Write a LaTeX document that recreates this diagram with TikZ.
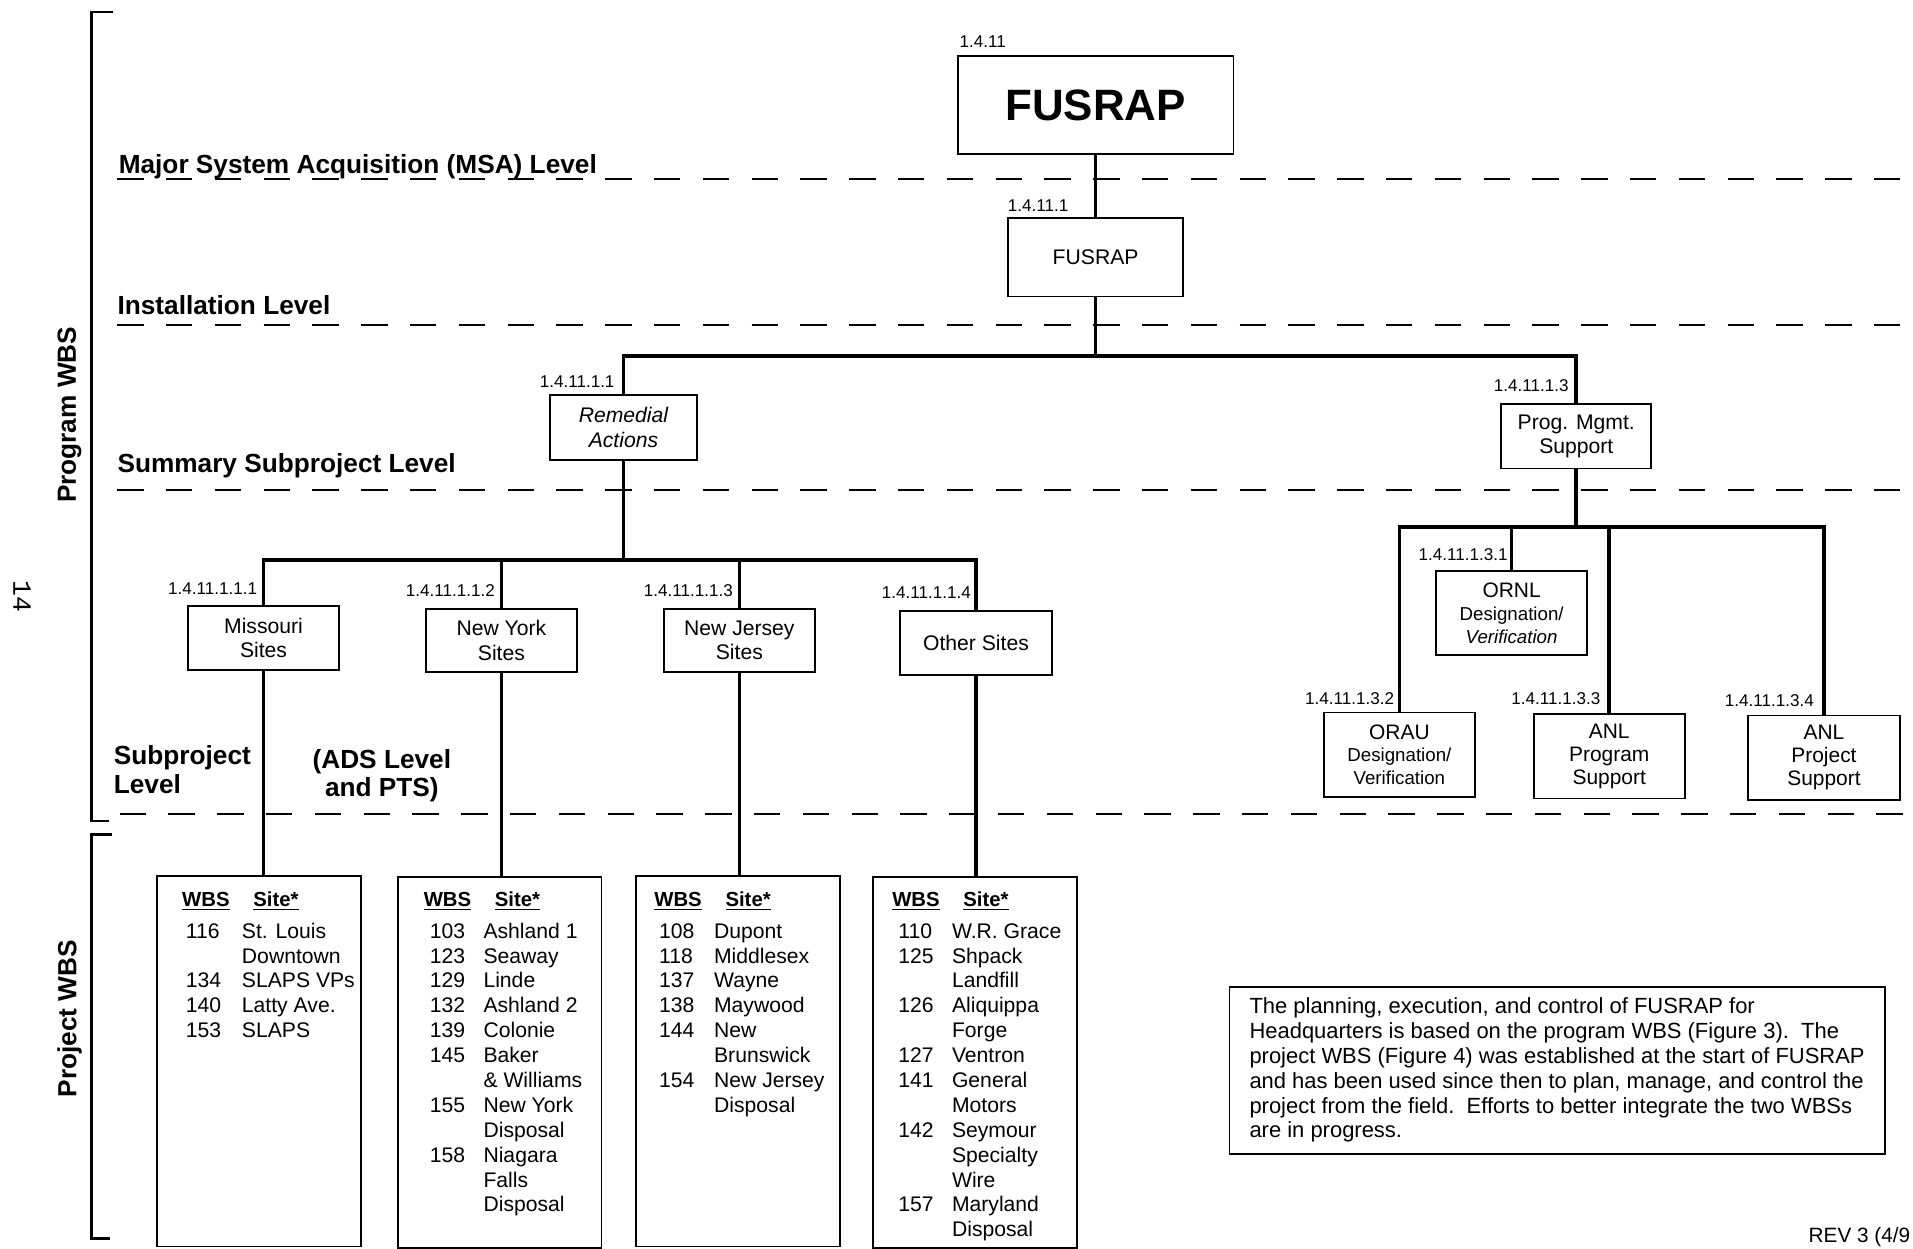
\documentclass[tikz,border=0pt]{standalone}
\usepackage{fontspec}
\setmainfont{Liberation Sans}
\newfontfamily\pagefont{Liberation Mono}
\begin{document}
\begin{tikzpicture}[x=0.6pt,y=-0.6pt,
  wbs/.style={draw,line width=0.9pt,inner sep=0pt,align=center,
    font=\fontsize{10.4}{12}\selectfont},
  sitebox/.style={wbs,minimum width=74.4pt,minimum height=31.2pt},
  labbox/.style={wbs,minimum width=74.4pt,minimum height=41.4pt,
    font=\fontsize{10.3}{11.2}\selectfont},
  listbox/.style={draw,line width=0.9pt,inner sep=0pt,anchor=north,
    minimum width=100.2pt,minimum height=182.4pt},
  code/.style={inner sep=0pt,anchor=base east,font=\fontsize{8.4}{10}\selectfont},
  level/.style={inner sep=0pt,anchor=base west,font=\fontsize{12.9}{13.8}\selectfont\bfseries},
  listhead/.style={inner sep=0pt,anchor=base west,font=\fontsize{10}{12}\selectfont\bfseries},
  listtext/.style={inner sep=0pt,anchor=base west,font=\fontsize{10.4}{12.24}\selectfont},
  tree/.style={line width=1.8pt},
  levelline/.style={line width=1pt,dash pattern=on 13pt off 11pt},
  bracket/.style={line width=1.2pt}]
  \useasboundingbox (0,0) rectangle (1568,1023);

  % level rules
  \draw[levelline] (96,147) -- (1568,147);
  \draw[levelline] (96,266) -- (1568,266);
  \draw[levelline] (96,402) -- (1568,402);
  \draw[levelline] (98,667) -- (1568,667);

  % side brackets
  \draw[bracket] (93,10) -- (75,10) -- (75,673) -- (89,673);
  \draw[bracket] (92,684) -- (75,684) -- (75,1015) -- (90,1015);
  \node[rotate=90,font=\fontsize{12.9}{14}\selectfont\bfseries] (progwbs) at (57,340) {Program WBS};
  \node[rotate=90,font=\fontsize{12.9}{14}\selectfont\bfseries] (projwbs) at (57,835) {Project WBS};
  \node[rotate=-90,font=\pagefont\fontsize{13}{14}\selectfont] (pageno) at (18,489) {14};

  % level names
  \node[level] (msa) at (97,142) {Major System Acquisition (MSA) Level};
  \node[level] (inst) at (96,258) {Installation Level};
  \node[level] (summ) at (96,387) {Summary Subproject Level};
  \node[level] (subp) at (93,627) {\begin{tabular}[t]{@{}l@{}}Subproject\\Level\end{tabular}};
  \node[level,anchor=base] (ads) at (313,630) {\begin{tabular}[t]{@{}c@{}}(ADS Level\\and PTS)\end{tabular}};

  % program WBS boxes
  \node[wbs,minimum width=135.6pt,minimum height=48pt,
    font=\fontsize{21.6}{24}\selectfont\bfseries] (top) at (898,86) {FUSRAP};
  \node[wbs,minimum width=85.8pt,minimum height=38.4pt] (fusrap) at (898,211) {FUSRAP};
  \node[wbs,minimum width=72pt,minimum height=31.8pt,
    font=\fontsize{10.4}{12}\selectfont\itshape] (remedial) at (511,350.5) {Remedial\\Actions};
  \node[wbs,minimum width=73.8pt,minimum height=31.8pt] (progmgmt) at (1292,357.5) {Prog. Mgmt.\\Support};

  \node[sitebox] (missouri) at (216,523) {Missouri\\Sites};
  \node[sitebox] (newyork) at (411,525) {New York\\Sites};
  \node[sitebox] (newjersey) at (606,525) {New Jersey\\Sites};
  \node[sitebox] (othersites) at (800,527) {Other Sites};

  \node[labbox] (ornl) at (1239,502.5) {ORNL\\{\fontsize{9.2}{11}\selectfont Designation/}\\{\fontsize{9.2}{11}\selectfont\itshape Verification}};
  \node[labbox] (orau) at (1147,618.5) {ORAU\\{\fontsize{9.2}{11}\selectfont Designation/}\\{\fontsize{9.2}{11}\selectfont Verification}};
  \node[labbox] (anlprog) at (1319,620) {ANL\\Program\\Support};
  \node[labbox] (anlproj) at (1495,621) {ANL\\Project\\Support};

  % WBS codes
  \node[code,anchor=base west] (ctop) at ([shift={(2,-6)}]top.north west) {1.4.11};
  \node[code,anchor=base west] (cfusrap) at ([shift={(0,-5)}]fusrap.north west) {1.4.11.1};
  \node[code] (cremedial) at ([shift={(-7,-6)}]remedial.north) {1.4.11.1.1};
  \node[code] (cprogmgmt) at ([shift={(-6,-9)}]progmgmt.north) {1.4.11.1.3};
  \node[code] (cmissouri) at ([shift={(-5,-9)}]missouri.north) {1.4.11.1.1.1};
  \node[code] (cnewyork) at ([shift={(-5,-9)}]newyork.north) {1.4.11.1.1.2};
  \node[code] (cnewjersey) at ([shift={(-5,-9)}]newjersey.north) {1.4.11.1.1.3};
  \node[code] (cothersites) at ([shift={(-4,-10)}]othersites.north) {1.4.11.1.1.4};
  \node[code] (cornl) at ([shift={(-3,-8)}]ornl.north) {1.4.11.1.3.1};
  \node[code] (corau) at ([shift={(-4,-6)}]orau.north) {1.4.11.1.3.2};
  \node[code] (canlprog) at ([shift={(-7,-7)}]anlprog.north) {1.4.11.1.3.3};
  \node[code] (canlproj) at ([shift={(-8,-7)}]anlproj.north) {1.4.11.1.3.4};

  % project WBS lists
  \node[listbox] (molist) at (212.5,717) {};
  \node[listbox] (nylist) at (409.5,718) {};
  \node[listbox] (njlist) at (605,717) {};
  \node[listbox] (otlist) at (799,718) {};

  \node[listhead] (mohead) at (149,743) {\makebox[35pt][l]{\underline{WBS}}\underline{Site*}};
  \node[listhead] (nyhead) at (347,743) {\makebox[35pt][l]{\underline{WBS}}\underline{Site*}};
  \node[listhead] (njhead) at (536,743) {\makebox[35pt][l]{\underline{WBS}}\underline{Site*}};
  \node[listhead] (othead) at (731,743) {\makebox[35pt][l]{\underline{WBS}}\underline{Site*}};

  \node[listtext] (motext) at (152,769) {\begin{tabular}[t]{@{}p{27.6pt}@{}l@{}}
    116&St. Louis\\ &Downtown\\ 134&SLAPS VPs\\ 140&Latty Ave.\\ 153&SLAPS
  \end{tabular}};
  \node[listtext] (nytext) at (352,769) {\begin{tabular}[t]{@{}p{26.4pt}@{}l@{}}
    103&Ashland 1\\ 123&Seaway\\ 129&Linde\\ 132&Ashland 2\\ 139&Colonie\\
    145&Baker\\ &\& Williams\\ 155&New York\\ &Disposal\\ 158&Niagara\\ &Falls\\ &Disposal
  \end{tabular}};
  \node[listtext] (njtext) at (540,769) {\begin{tabular}[t]{@{}p{27pt}@{}l@{}}
    108&Dupont\\ 118&Middlesex\\ 137&Wayne\\ 138&Maywood\\ 144&New\\ &Brunswick\\
    154&New Jersey\\ &Disposal
  \end{tabular}};
  \node[listtext] (ottext) at (736,769) {\begin{tabular}[t]{@{}p{26.4pt}@{}l@{}}
    110&W.R. Grace\\ 125&Shpack\\ &Landfill\\ 126&Aliquippa\\ &Forge\\ 127&Ventron\\
    141&General\\ &Motors\\ 142&Seymour\\ &Specialty\\ &Wire\\ 157&Maryland\\ &Disposal
  \end{tabular}};

  % tree lines
  \coordinate (bus1) at (898,292);
  \coordinate (bus2) at (511,459);
  \coordinate (bus3) at (1292,432);
  \draw[tree] (top.south) -- (fusrap.north);
  \draw[tree] (fusrap.south) -- (bus1);
  \draw[tree] (remedial.north) |- (bus1) -| (progmgmt.north);
  \draw[tree] (remedial.south) -- (bus2);
  \draw[tree] (missouri.north) |- (bus2) -| (othersites.north);
  \draw[tree] (newyork.north) -- (newyork.north |- bus2);
  \draw[tree] (newjersey.north) -- (newjersey.north |- bus2);
  \draw[tree] (progmgmt.south) -- (bus3);
  \draw[tree] (orau.north) |- (bus3) -| (anlproj.north);
  \draw[tree] (ornl.north) -- (ornl.north |- bus3);
  \draw[tree] (anlprog.north) -- (anlprog.north |- bus3);
  \foreach \s/\l in {missouri/molist,newyork/nylist,newjersey/njlist,othersites/otlist}
    \draw[tree] (\s.south) -- (\s.south |- \l.north);

  % note
  \node[draw,line width=0.9pt,anchor=north west,align=left,inner sep=0pt,
    minimum width=322.2pt,minimum height=82.2pt,
    font=\fontsize{10.8}{12.2}\selectfont] (note) at (1007,808)
    {The planning, execution, and control of FUSRAP for\\
     Headquarters is based on the program WBS (Figure 3).\ \ The\\
     project WBS (Figure 4) was established at the start of FUSRAP\\
     and has been used since then to plan, manage, and control the\\
     project from the field.\ \ Efforts to better integrate the two WBSs\\
     are in progress.};
  \node[inner sep=0pt,anchor=base east,font=\fontsize{10.2}{12}\selectfont] (rev) at (1566,1018) {REV 3 (4/9};
\end{tikzpicture}
\end{document}
